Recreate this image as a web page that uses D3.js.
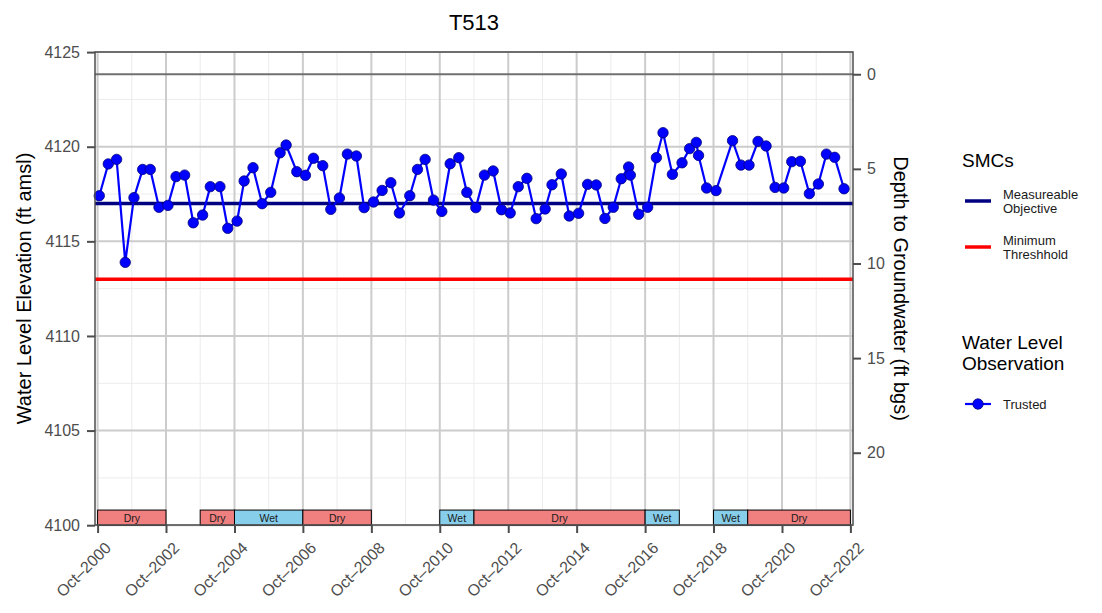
<!DOCTYPE html>
<html>
<head>
<meta charset="utf-8">
<script src="https://cdn.jsdelivr.net/npm/d3@7"></script>
<style>
  body { margin: 0; background: #ffffff; }
  text { font-family: "Liberation Sans", Arial, Helvetica, sans-serif; }
</style>
</head>
<body>
<svg id="chart" width="1102" height="613"></svg>
<script>
// Well T513 water level observations (ft amsl)
const obsDates = [
  "2000-10-19","2001-01-23","2001-04-22","2001-07-23","2001-10-24","2002-01-25","2002-04-16","2002-07-18",
  "2002-10-22","2003-01-16","2003-04-18","2003-07-19","2003-10-27","2004-01-17","2004-04-29","2004-07-21",
  "2004-10-29","2005-01-12","2005-04-17","2005-07-23","2005-10-23","2006-01-31","2006-04-05","2006-07-28",
  "2006-10-28","2007-01-22","2007-05-01","2007-07-26","2007-10-26","2008-01-19","2008-04-24","2008-07-16",
  "2008-10-24","2009-01-24","2009-04-27","2009-07-27","2009-11-15","2010-02-05","2010-04-28","2010-07-26",
  "2010-10-23","2011-01-20","2011-04-22","2011-07-17","2011-10-21","2012-01-21","2012-04-23","2012-07-21",
  "2012-10-22","2013-01-16","2013-04-18","2013-07-26","2013-10-30","2014-01-11","2014-04-20","2014-07-14",
  "2014-10-22","2015-01-26","2015-04-28","2015-07-30","2015-10-27","2016-01-20","2016-04-08","2016-04-26",
  "2016-07-24","2016-10-28","2017-01-29","2017-04-10","2017-07-19","2017-10-30","2018-01-19","2018-03-31",
  "2018-04-24","2018-07-19","2018-10-28","2019-04-22","2019-07-21","2019-10-15","2020-01-19","2020-04-14",
  "2020-07-19","2020-10-19","2021-01-13","2021-04-15","2021-07-20","2021-10-24","2022-01-18","2022-04-16",
  "2022-07-25"
];
const obsElev = [
  4117.41, 4119.09, 4119.33, 4113.89, 4117.31, 4118.80, 4118.80, 4116.80,
  4116.90, 4118.42, 4118.50, 4115.98, 4116.39, 4117.89, 4117.89, 4115.69,
  4116.07, 4118.19, 4118.89, 4116.99, 4117.59, 4119.68, 4120.09, 4118.68,
  4118.49, 4119.39, 4119.00, 4116.69, 4117.29, 4119.61, 4119.51, 4116.78,
  4117.08, 4117.69, 4118.10, 4116.50, 4117.41, 4118.80, 4119.33, 4117.18,
  4116.58, 4119.10, 4119.42, 4117.59, 4116.78, 4118.50, 4118.72, 4116.67,
  4116.50, 4117.89, 4118.33, 4116.20, 4116.71, 4117.99, 4118.56, 4116.34,
  4116.48, 4118.01, 4117.98, 4116.21, 4116.80, 4118.31, 4118.93, 4118.50,
  4116.43, 4116.80, 4119.42, 4120.74, 4118.54, 4119.15, 4119.90, 4120.23,
  4119.54, 4117.82, 4117.68, 4120.32, 4119.03, 4119.03, 4120.28, 4120.04,
  4117.85, 4117.82, 4119.21, 4119.23, 4117.52, 4118.03, 4119.61, 4119.44,
  4117.78
];

// Sustainable management criteria and reference surface (ft amsl)
const groundSurfaceElev = 4123.83;
const measurableObjective = 4117;
const minimumThreshold = 4113;

// Water year classification periods
const periodStart = ["2000-10-01","2003-10-01","2004-10-01","2006-10-01","2010-10-01","2011-10-01","2016-10-01","2018-10-01","2019-10-01"];
const periodEnd   = ["2002-10-01","2004-10-01","2006-10-01","2008-10-01","2011-10-01","2016-10-01","2017-10-01","2019-10-01","2022-10-01"];
const periodType  = ["Dry","Dry","Wet","Dry","Wet","Dry","Wet","Wet","Dry"];

// Axis ticks
const elevTicks = [4100, 4105, 4110, 4115, 4120, 4125];
const elevMinorTicks = [4102.5, 4107.5, 4112.5, 4117.5, 4122.5];
const depthTicks = [0, 5, 10, 15, 20];
const xTickYears = [2000, 2002, 2004, 2006, 2008, 2010, 2012, 2014, 2016, 2018, 2020, 2022];
const xMinorYears = [2001, 2003, 2005, 2007, 2009, 2011, 2013, 2015, 2017, 2019, 2021];

const parse = d3.utcParse("%Y-%m-%d");
const octFirst = yr => new Date(Date.UTC(yr, 9, 1));

const svg = d3.select("#chart");
const panel = { left: 95, right: 853, top: 52, bottom: 525 };

const x = d3.scaleUtc()
  .domain([octFirst(2000), octFirst(2022)])
  .range([97.6, 850.4]);
const y = d3.scaleLinear()
  .domain([4100, 4125])
  .range([525.2, 52.1]);
const yDepth = d3.scaleLinear()
  .domain([0, 25])
  .range([y(groundSurfaceElev), y(groundSurfaceElev - 25)]);

const axisColor = "#4d4d4d";
const tickTextColor = "#4d4d4d";

// Panel background
svg.append("rect")
  .attr("x", panel.left).attr("y", panel.top)
  .attr("width", panel.right - panel.left).attr("height", panel.bottom - panel.top)
  .attr("fill", "#ffffff");

const grid = svg.append("g");
// minor grid
grid.selectAll(".hmin").data(elevMinorTicks).join("line")
  .attr("x1", panel.left).attr("x2", panel.right)
  .attr("y1", d => y(d)).attr("y2", d => y(d))
  .attr("stroke", "#ececec").attr("stroke-width", 1);
grid.selectAll(".vmin").data(xMinorYears).join("line")
  .attr("x1", d => x(octFirst(d))).attr("x2", d => x(octFirst(d)))
  .attr("y1", panel.top).attr("y2", panel.bottom)
  .attr("stroke", "#ececec").attr("stroke-width", 1);
// major grid
grid.selectAll(".hmaj").data(elevTicks).join("line")
  .attr("x1", panel.left).attr("x2", panel.right)
  .attr("y1", d => y(d)).attr("y2", d => y(d))
  .attr("stroke", "#cccccc").attr("stroke-width", 2);
grid.selectAll(".vmaj").data(xTickYears).join("line")
  .attr("x1", d => x(octFirst(d))).attr("x2", d => x(octFirst(d)))
  .attr("y1", panel.top).attr("y2", panel.bottom)
  .attr("stroke", "#cccccc").attr("stroke-width", 2);

// Ground surface reference line
svg.append("line")
  .attr("x1", panel.left).attr("x2", panel.right)
  .attr("y1", y(groundSurfaceElev)).attr("y2", y(groundSurfaceElev))
  .attr("stroke", "#707070").attr("stroke-width", 2);

// Measurable objective and minimum threshold
svg.append("line")
  .attr("x1", panel.left).attr("x2", panel.right)
  .attr("y1", y(measurableObjective)).attr("y2", y(measurableObjective))
  .attr("stroke", "#000080").attr("stroke-width", 3.5);
svg.append("line")
  .attr("x1", panel.left).attr("x2", panel.right)
  .attr("y1", y(minimumThreshold)).attr("y2", y(minimumThreshold))
  .attr("stroke", "#ff0000").attr("stroke-width", 3.5);

// Water year type bars along the bottom
const periods = periodType.map((t, i) => ({ type: t, start: parse(periodStart[i]), end: parse(periodEnd[i]) }));
const barTop = 4100.8;
const bars = svg.append("g").selectAll("g").data(periods).join("g");
bars.append("rect")
  .attr("x", d => x(d.start)).attr("width", d => x(d.end) - x(d.start))
  .attr("y", y(barTop)).attr("height", y(4100) - y(barTop))
  .attr("fill", d => d.type === "Dry" ? "#f08080" : "#87ceeb")
  .attr("stroke", "#000000").attr("stroke-width", 1);
bars.append("text")
  .attr("x", d => (x(d.start) + x(d.end)) / 2)
  .attr("y", (y(barTop) + y(4100)) / 2)
  .attr("dy", "0.38em")
  .attr("text-anchor", "middle")
  .attr("font-size", 10.5)
  .attr("fill", "#1a1a1a")
  .text(d => d.type);

// Observations
const obs = obsDates.map((d, i) => ({ date: parse(d), elev: obsElev[i] }));
svg.append("path")
  .datum(obs)
  .attr("d", d3.line().x(d => x(d.date)).y(d => y(d.elev)))
  .attr("fill", "none").attr("stroke", "#0000ff").attr("stroke-width", 2.2);
svg.append("g").selectAll("circle").data(obs).join("circle")
  .attr("cx", d => x(d.date)).attr("cy", d => y(d.elev)).attr("r", 5.2)
  .attr("fill", "#0000ff").attr("stroke", "#00007a").attr("stroke-width", 0.8);

// Panel frame
svg.append("rect")
  .attr("x", panel.left).attr("y", panel.top)
  .attr("width", panel.right - panel.left).attr("height", panel.bottom - panel.top)
  .attr("fill", "none").attr("stroke", axisColor).attr("stroke-width", 1.5);

// Left axis: elevation
const leftAxis = svg.append("g").attr("transform", `translate(${panel.left},0)`)
  .call(d3.axisLeft(y).tickValues(elevTicks).tickFormat(d3.format("d")).tickSize(8).tickPadding(7));
// Right axis: depth to groundwater
const rightAxis = svg.append("g").attr("transform", `translate(${panel.right},0)`)
  .call(d3.axisRight(yDepth).tickValues(depthTicks).tickFormat(d3.format("d")).tickSize(8).tickPadding(6));
// Bottom axis: dates
const fmt = d3.utcFormat("%b\u2013%Y");
const bottomAxis = svg.append("g").attr("transform", `translate(0,${panel.bottom})`)
  .call(d3.axisBottom(x).tickValues(xTickYears.map(octFirst)).tickFormat(fmt).tickSize(8).tickPadding(4));

[leftAxis, rightAxis, bottomAxis].forEach(a => {
  a.select(".domain").remove();
  a.selectAll(".tick line").attr("stroke", axisColor).attr("stroke-width", 2);
  a.selectAll(".tick text").attr("fill", tickTextColor).attr("font-size", 16)
    .attr("font-family", "'Liberation Sans', Arial, sans-serif");
});
bottomAxis.selectAll(".tick text")
  .attr("text-anchor", "end")
  .attr("dy", null)
  .attr("y", null)
  .attr("transform", "translate(6,16) rotate(-45)")
  .attr("dominant-baseline", "hanging");

// Titles
svg.append("text")
  .attr("x", (panel.left + panel.right) / 2).attr("y", 30)
  .attr("text-anchor", "middle").attr("font-size", 22).attr("fill", "#000")
  .text("T513");
svg.append("text")
  .attr("transform", `translate(31,${(panel.top + panel.bottom) / 2}) rotate(-90)`)
  .attr("text-anchor", "middle").attr("font-size", 20).attr("fill", "#000")
  .text("Water Level Elevation (ft amsl)");
svg.append("text")
  .attr("transform", `translate(894,${(panel.top + panel.bottom) / 2}) rotate(90)`)
  .attr("text-anchor", "middle").attr("font-size", 20).attr("fill", "#000")
  .text("Depth to Groundwater (ft bgs)");

// Legends
const legend = svg.append("g");
legend.append("text").attr("x", 962).attr("y", 167).attr("font-size", 19).text("SMCs");
const smcItems = [
  { color: "#000080", lines: ["Measureable", "Objective"], y: 201 },
  { color: "#ff0000", lines: ["Minimum", "Threshhold"], y: 247 }
];
smcItems.forEach(item => {
  legend.append("line").attr("x1", 965).attr("x2", 991).attr("y1", item.y).attr("y2", item.y)
    .attr("stroke", item.color).attr("stroke-width", 3.5);
  const t = legend.append("text").attr("x", 1003).attr("y", item.y - 7).attr("font-size", 13).attr("fill", "#1a1a1a");
  item.lines.forEach((l, i) => t.append("tspan").attr("x", 1003).attr("dy", i === 0 ? "0.35em" : "1.12em").text(l));
});
const obsTitle = legend.append("text").attr("x", 962).attr("y", 349).attr("font-size", 19);
obsTitle.append("tspan").attr("x", 962).text("Water Level");
obsTitle.append("tspan").attr("x", 962).attr("dy", 21).text("Observation");
legend.append("line").attr("x1", 965).attr("x2", 991).attr("y1", 404).attr("y2", 404)
  .attr("stroke", "#0000ff").attr("stroke-width", 2.2);
legend.append("circle").attr("cx", 978).attr("cy", 404).attr("r", 5.2)
  .attr("fill", "#0000ff").attr("stroke", "#00007a").attr("stroke-width", 0.8);
legend.append("text").attr("x", 1003).attr("y", 404).attr("dy", "0.35em").attr("font-size", 13)
  .attr("fill", "#1a1a1a").text("Trusted");
</script>
</body>
</html>
